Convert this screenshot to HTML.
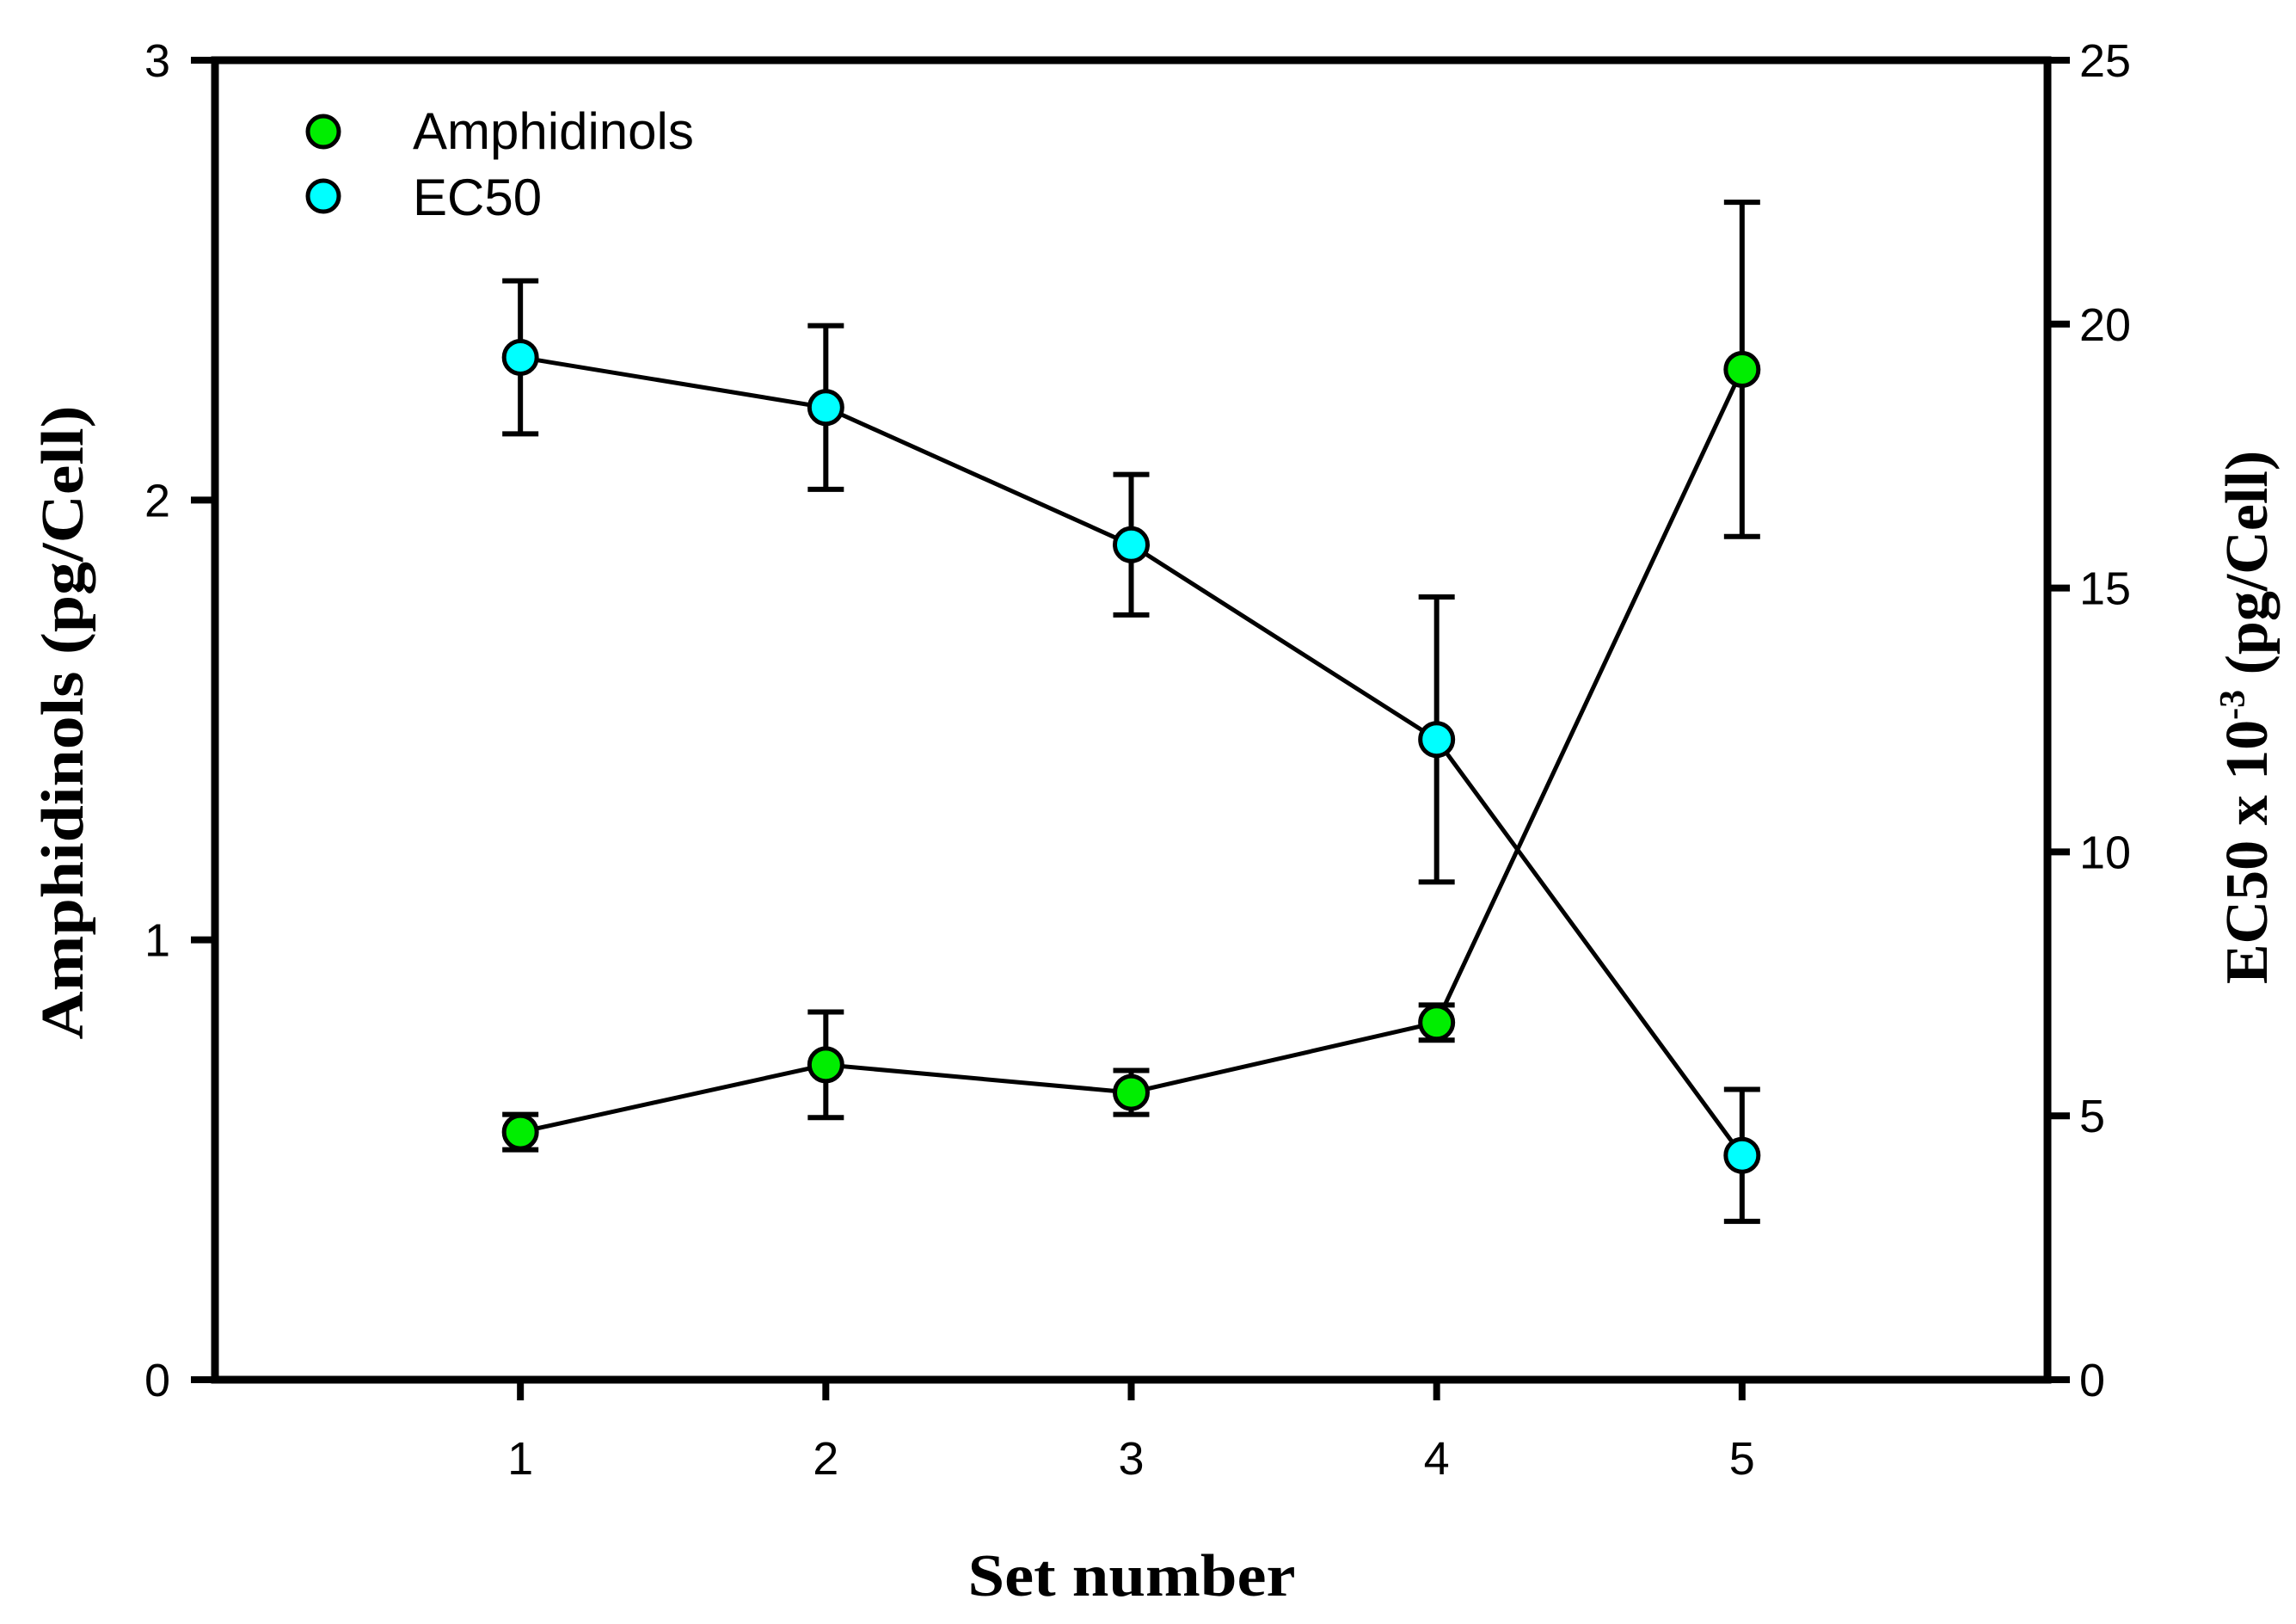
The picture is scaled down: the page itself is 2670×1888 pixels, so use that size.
<!DOCTYPE html>
<html><head><meta charset="utf-8"><style>html,body{margin:0;padding:0;background:#fff}svg{display:block}</style></head>
<body>
<svg id="chart" xmlns="http://www.w3.org/2000/svg" width="2670" height="1888" viewBox="0 0 2670 1888">
<rect x="0" y="0" width="2670" height="1888" fill="#fff"/>
<g id="axes"></g>
<g id="marks"></g>
<text x="1316" y="1855" text-anchor="middle" font-family="Liberation Serif, serif" font-weight="bold" font-size="70" textLength="381" lengthAdjust="spacingAndGlyphs">Set number</text>
<text transform="translate(96,840) rotate(-90)" text-anchor="middle" font-family="Liberation Serif, serif" font-weight="bold" font-size="70" textLength="737" lengthAdjust="spacingAndGlyphs">Amphidinols (pg/Cell)</text>
<text transform="translate(2636,834) rotate(-90)" text-anchor="middle" font-family="Liberation Serif, serif" font-weight="bold" font-size="70">EC50 x 10<tspan font-size="42" dy="-26">-3</tspan><tspan dy="26"> (pg/Cell)</tspan></text>
<g>
<circle cx="376" cy="153" r="18" fill="#00ee00" stroke="#000" stroke-width="5"/>
<text x="480" y="173" font-family="Liberation Sans, sans-serif" font-size="60">Amphidinols</text>
<circle cx="376" cy="228" r="18" fill="#00ffff" stroke="#000" stroke-width="5"/>
<text x="480" y="250" font-family="Liberation Sans, sans-serif" font-size="60">EC50</text>
</g>
</svg>
<script>
const categories = [1, 2, 3, 4, 5];
const amphValues = [0.563, 0.716, 0.653, 0.812, 2.297];
const amphErrors = [0.04, 0.12, 0.05, 0.04, 0.38];
const ec50Values = [19.37, 18.42, 15.82, 12.13, 4.25];
const ec50Errors = [1.45, 1.55, 1.33, 2.7, 1.25];
const leftTicks = [0, 1, 2, 3];
const rightTicks = [0, 5, 10, 15, 20, 25];
const xTicks = [1, 2, 3, 4, 5];

const NS = 'http://www.w3.org/2000/svg';
const L = 250, R = 2381, T = 70, B = 1604;
const xs = v => L + (v - 0) / 6 * (R - L);
const yl = v => B - v / 3 * (B - T);
const yr = v => B - v / 25 * (B - T);
function mk(tag, attrs, parent) {
  const e = document.createElementNS(NS, tag);
  for (const k in attrs) e.setAttribute(k, attrs[k]);
  parent.appendChild(e);
  return e;
}
const axes = document.getElementById('axes');
const marks = document.getElementById('marks');
const frame = mk('rect', {x: L, y: T, width: R - L, height: B - T, fill: 'none', stroke: '#000', 'stroke-width': 9}, axes);


const font = 'Liberation Sans, sans-serif';
leftTicks.forEach(t => {
  const y = yl(t);
  const tk = mk('line', {x1: L - 28, x2: L, y1: y, y2: y, stroke: '#000', 'stroke-width': 8}, axes);
  
  
  const tx = mk('text', {x: 198, y: y + 19, 'text-anchor': 'end', 'font-family': font, 'font-size': 54}, axes);
  tx.textContent = t;
  
  
});
rightTicks.forEach(t => {
  const y = yr(t);
  const tk = mk('line', {x1: R, x2: R + 26, y1: y, y2: y, stroke: '#000', 'stroke-width': 8}, axes);
  
  
  const tx = mk('text', {x: 2418, y: y + 19, 'text-anchor': 'start', 'font-family': font, 'font-size': 54}, axes);
  tx.textContent = t;
  
  
});
xTicks.forEach(t => {
  const x = xs(t);
  const tk = mk('line', {x1: x, x2: x, y1: B, y2: B + 24, stroke: '#000', 'stroke-width': 8}, axes);
  
  
  const tx = mk('text', {x: x, y: 1714, 'text-anchor': 'middle', 'font-family': font, 'font-size': 54}, axes);
  tx.textContent = t;
  
  
});
function series(vals, errs, ys, color, name) {
  const pts = categories.map((c, i) => xs(c) + ',' + ys(vals[i])).join(' ');
  const line = mk('polyline', {points: pts, fill: 'none', stroke: '#000', 'stroke-width': 5}, marks);
  
  
  categories.forEach((c, i) => {
    const x = xs(c), y1 = ys(vals[i] + errs[i]), y2 = ys(vals[i] - errs[i]);
    const g = mk('g', {stroke: '#000', 'stroke-width': 6}, marks);
    
    
    mk('line', {x1: x, x2: x, y1: y1, y2: y2}, g);
    mk('line', {x1: x - 21, x2: x + 21, y1: y1, y2: y1}, g);
    mk('line', {x1: x - 21, x2: x + 21, y1: y2, y2: y2}, g);
  });
  categories.forEach((c, i) => {
    const p = mk('circle', {cx: xs(c), cy: ys(vals[i]), r: 19, fill: color, stroke: '#000', 'stroke-width': 5}, marks);
    
    
  });
}
series(ec50Values, ec50Errors, yr, '#00ffff', 'ec50');
series(amphValues, amphErrors, yl, '#00ee00', 'amphidinols');
</script>
</body></html>
